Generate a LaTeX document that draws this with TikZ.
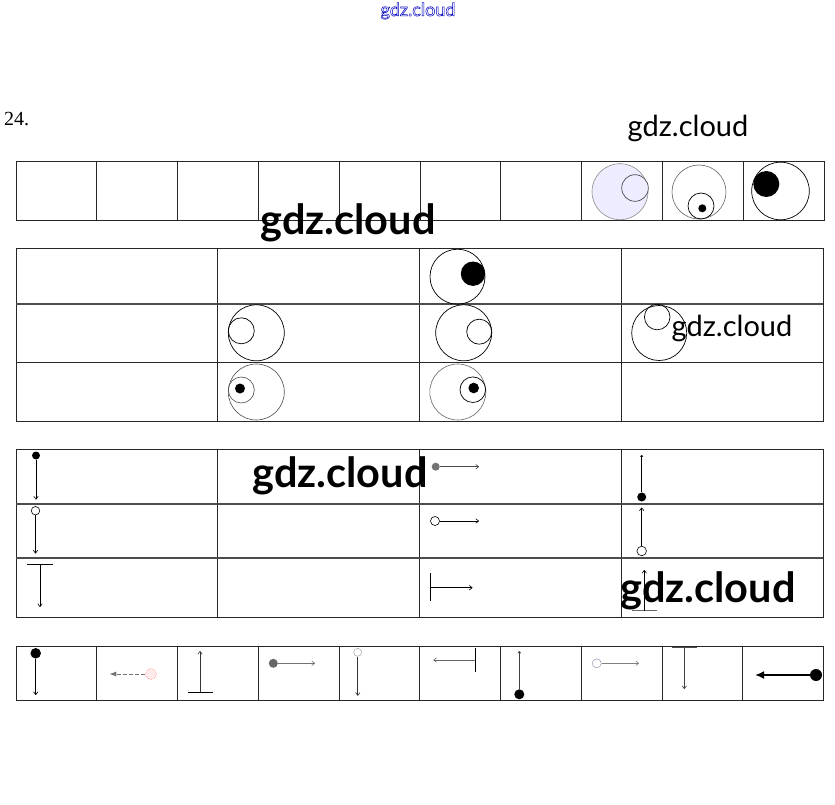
\documentclass[tikz,border=0pt]{standalone}
\usepackage{fontspec}
\setmainfont{Liberation Serif}
\newfontfamily\wmfont{Lato}
\usetikzlibrary{arrows.meta}
\begin{document}
\begin{tikzpicture}[x=1pt,y=-1pt,
  grid/.style={draw=black!85,line width=0.8pt},
  arr/.style={draw=black,line width=0.6pt,-{To[length=3.5pt,width=5pt]}},
  thin/.style={draw=black,line width=0.6pt},
  dotnode/.style={circle,inner sep=0pt,fill=black,minimum size=#1},
  opennode/.style={circle,inner sep=0pt,draw=black,fill=white,line width=0.6pt,minimum size=#1},
  ring/.style={draw=black,line width=0.7pt},
  wmreg/.style={font=\wmfont\fontsize{29}{32}\selectfont,text=black,inner sep=0pt},
  wmbold/.style={font=\wmfont\bfseries\fontsize{41.5}{44}\selectfont,text=black,inner sep=0pt}]
\useasboundingbox (0,0) rectangle (835,805);
\fill[white] (0,0) rectangle (835,805);

% ---------- header texts
\node[inner sep=0pt,text=blue!75!black,font=\wmfont\fontsize{18}{20}\selectfont] (hdr) at (418,11)
  {\special{pdf:literal direct 1 Tr 0.5 w}gdz.cloud\special{pdf:literal direct 0 Tr}};
\node[anchor=west,inner sep=0pt,font=\fontsize{20}{22}\selectfont] (num) at (4,119) {24.};
\node[wmreg] (w1) at (688,128) {gdz.cloud};

% ---------- table 1 (one row, ten cells)
\draw[grid] (16,161.5) rectangle (824,220);
\foreach \i in {1,...,9} { \draw[grid] ({16+80.8*\i},161.5) -- ({16+80.8*\i},220); }
\draw[draw=black!45,fill=blue!7,line width=0.6pt] (620,191.7) circle (28);
\draw[draw=black!70,fill=blue!7,line width=0.7pt] (635,188) circle (13.3);
\draw[draw=black!60,line width=0.6pt] (699,192) circle (27);
\draw[ring] (701,206) circle (13);
\fill (702.3,208.3) circle (4);
\draw[ring] (780.5,191) circle (28.8);
\fill (766.3,184) circle (13);

\node[wmbold] (w2) at (348,223) {gdz.cloud};

% ---------- table 2 (3 rows x 4 columns)
\draw[grid] (16,248) rectangle (823,421);
\foreach \x in {217.5,419.5,621.5} { \draw[grid] (\x,248) -- (\x,421); }
\draw[draw=black!70,line width=1.3pt] (16,304) -- (823,304);
\draw[grid] (16,362.5) -- (823,362.5);
% row 1
\draw[ring] (457.5,276.7) circle (27.5);
\fill (473,273.7) circle (12.2);
% row 2
\draw[ring] (256.3,332.8) circle (28);
\draw[ring] (241.3,330.8) circle (13);
\draw[ring] (463.7,332.8) circle (28);
\draw[ring] (479.2,331.7) circle (12.5);
\draw[ring] (659.2,333) circle (27.5);
\draw[ring] (657.2,317) circle (12.8);
% row 3
\draw[draw=black!70,line width=0.6pt] (256.3,392) circle (28);
\draw[draw=black!70,line width=0.6pt] (241.3,390) circle (13);
\fill (240,388.5) circle (5);
\draw[draw=black!60,line width=0.6pt] (457.8,392) circle (28);
\draw[ring] (472.8,389.7) circle (12.8);
\fill (473.7,388) circle (5.3);

\node[wmreg] (w3) at (732,328) {gdz.cloud};

% ---------- table 3 (3 rows x 4 columns)
\draw[grid] (16,449.5) rectangle (823,617);
\foreach \x in {217.5,419.5,621.5} { \draw[grid] (\x,449.5) -- (\x,617); }
\draw[draw=black!70,line width=1.3pt] (16,504) -- (823,504);
\draw[draw=black!70,line width=1.3pt] (16,558) -- (823,558);
% column 1
\node[dotnode=8pt] (a1) at (36,455.5) {};
\coordinate (a1e) at (36,499.5);
\draw[arr] (a1) -- (a1e);
\node[opennode=8.5pt] (a2) at (35.5,510.7) {};
\coordinate (a2e) at (35.5,553.5);
\draw[arr] (a2) -- (a2e);
\coordinate (t1l) at (27,564.5); \coordinate (t1r) at (53,564.5);
\coordinate (t1m) at (40,564.5); \coordinate (t1e) at (40,607);
\draw[thin] (t1l) -- (t1r);
\draw[arr] (t1m) -- (t1e);
% column 3
\node[circle,inner sep=0pt,minimum size=8pt,fill=black!55] (b1) at (435.7,466.7) {};
\coordinate (b1e) at (479,466.7);
\draw[arr,draw=black!70] (b1) -- (b1e);
\node[opennode=9pt] (b2) at (435,521) {};
\coordinate (b2e) at (479,521);
\draw[arr] (b2) -- (b2e);
\coordinate (b3t) at (430.7,573); \coordinate (b3b) at (430.7,600.5);
\coordinate (b3m) at (430.7,587.7); \coordinate (b3e) at (472.5,587.7);
\draw[thin] (b3t) -- (b3b);
\draw[arr] (b3m) -- (b3e);
% column 4
\node[dotnode=9pt] (c1) at (641.7,497) {};
\coordinate (c1e) at (641.7,455);
\draw[arr,line width=0.7pt,-{To[length=2pt,width=3pt]}] (c1) -- (c1e);
\node[opennode=9.5pt] (c2) at (641.7,551) {};
\coordinate (c2e) at (641.7,507.5);
\draw[arr] (c2) -- (c2e);
\coordinate (c3l) at (632,610.5); \coordinate (c3r) at (657,610.5);
\coordinate (c3m) at (644.3,610.5); \coordinate (c3e) at (644.3,570);
\draw[thin,draw=black!60] (c3l) -- (c3r);
\draw[arr] (c3m) -- (c3e);

\node[wmbold] (w4) at (340,476) {gdz.cloud};
\node[wmbold] (w5) at (708,591) {gdz.cloud};

% ---------- table 4 (one row, ten cells)
\draw[grid] (16,646.5) rectangle (823.5,700);
\foreach \i in {1,...,9} { \draw[grid] ({16+80.75*\i},646.5) -- ({16+80.75*\i},700); }
% cell 1
\node[dotnode=10.5pt] (d1) at (35.7,653.3) {};
\coordinate (d1e) at (35.7,695);
\draw[arr] (d1) -- (d1e);
% cell 2
\node[circle,inner sep=0pt,minimum size=11pt,draw=red!45,fill=red!8,densely dotted,line width=0.6pt] (d2) at (151,674) {};
\coordinate (d2e) at (109.3,674);
\draw[draw=black!55,line width=0.8pt,dash pattern=on 4pt off 2pt,-{Latex[length=7pt,width=5pt]}] (d2) -- (d2e);
% cell 3
\coordinate (d3l) at (188.3,692.3); \coordinate (d3r) at (213.3,692.3);
\coordinate (d3m) at (200,692.3); \coordinate (d3e) at (200,651);
\draw[thin] (d3l) -- (d3r);
\draw[arr,draw=black!80] (d3m) -- (d3e);
% cell 4
\node[circle,inner sep=0pt,minimum size=9pt,fill=black!60] (d4) at (273.3,663.3) {};
\coordinate (d4e) at (315,663.3);
\draw[arr,draw=black!55] (d4) -- (d4e);
% cell 5
\node[circle,inner sep=0pt,minimum size=8pt,draw=black!35,fill=white,line width=0.5pt] (d5) at (357.7,652.3) {};
\coordinate (d5e) at (357.7,695.7);
\draw[arr,draw=black!80] (d5) -- (d5e);
% cell 6
\coordinate (d6t) at (475,648.3); \coordinate (d6b) at (475,672.3);
\coordinate (d6m) at (475,660); \coordinate (d6e) at (433.3,660);
\draw[thin] (d6t) -- (d6b);
\draw[arr,draw=black!60] (d6m) -- (d6e);
% cell 7
\node[dotnode=10pt] (d7) at (519.3,694.3) {};
\coordinate (d7e) at (519.3,651);
\draw[arr,draw=black!75,-{To[length=2.5pt,width=3.5pt]}] (d7) -- (d7e);
% cell 8
\node[circle,inner sep=0pt,minimum size=9pt,draw=blue!30!black!35,fill=white,line width=0.6pt] (d8) at (596.7,663.3) {};
\coordinate (d8e) at (639,663.3);
\draw[arr,draw=black!50] (d8) -- (d8e);
% cell 9
\coordinate (d9l) at (672,647); \coordinate (d9r) at (697,647);
\coordinate (d9m) at (684.3,647); \coordinate (d9e) at (684.3,689);
\draw[thin,draw=black!70] (d9l) -- (d9r);
\draw[arr,draw=black!75] (d9m) -- (d9e);
% cell 10
\node[dotnode=12pt] (d10) at (816,675) {};
\coordinate (d10e) at (755,675);
\draw[draw=black,line width=1.8pt,-{Latex[length=9pt,width=8pt]}] (d10) -- (d10e);
\end{tikzpicture}
\end{document}
